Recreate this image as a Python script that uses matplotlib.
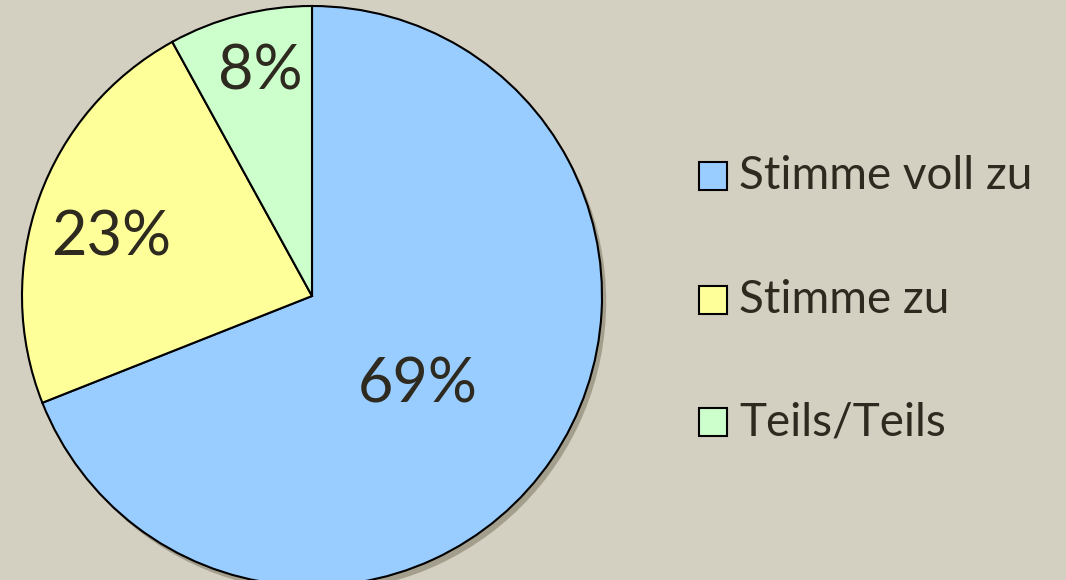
import matplotlib.pyplot as plt
import matplotlib.patheffects as pe
import numpy as np

# data
labels = ["Stimme voll zu", "Stimme zu", "Teils/Teils"]
values = [69, 23, 8]
colors = ["#99CCFF", "#FFFF99", "#CCFFCC"]
pct_labels = ["69%", "23%", "8%"]

# label placement: fraction of radius and angle tweak (deg) from wedge middle
label_dist = [0.477, 0.721, 0.793]
label_turn = [-5.8, 3.7, -1.3]

bg = "#D3CFC1"
txt = "#2E2A1F"

fig = plt.figure(figsize=(10.66, 5.8), dpi=100, facecolor=bg)
ax = fig.add_axes([0, 0, 1, 1])
ax.set_facecolor(bg)

cx, cy, r = 312, 580 - 296, 290

# soft shadow under the whole pie
shadow = plt.Circle((cx, cy), r, facecolor=bg, edgecolor="none", zorder=0)
shadow.set_path_effects([pe.SimplePatchShadow(offset=(3, -4), shadow_rgbFace="#7d7862", alpha=0.55)])
ax.add_patch(shadow)

wedges, _ = ax.pie(values, colors=colors, startangle=90, counterclock=False,
                   center=(cx, cy), radius=r, frame=True,
                   wedgeprops=dict(edgecolor="black", linewidth=1.5))
ax.set_xlim(0, 1066)
ax.set_ylim(0, 580)
ax.axis("off")

# percent labels around wedge middle angles
for w, lab, d, t in zip(wedges, pct_labels, label_dist, label_turn):
    ang = np.deg2rad((w.theta1 + w.theta2) / 2 + t)
    ax.text(cx + d * r * np.cos(ang), cy + d * r * np.sin(ang), lab,
            ha="center", va="center", fontsize=44, color=txt, family="Lato")

# legend
ys = [176, 300, 422]
for lab, c, y in zip(labels, colors, ys):
    ax.add_patch(plt.Rectangle((699, 580 - y - 14), 28, 28, facecolor=c,
                               edgecolor="black", linewidth=1.5))
    ax.text(739, 580 - y, lab, ha="left", va="center", fontsize=33,
            color=txt, family="Lato")

fig.savefig("out.png", dpi=100, facecolor=bg)
